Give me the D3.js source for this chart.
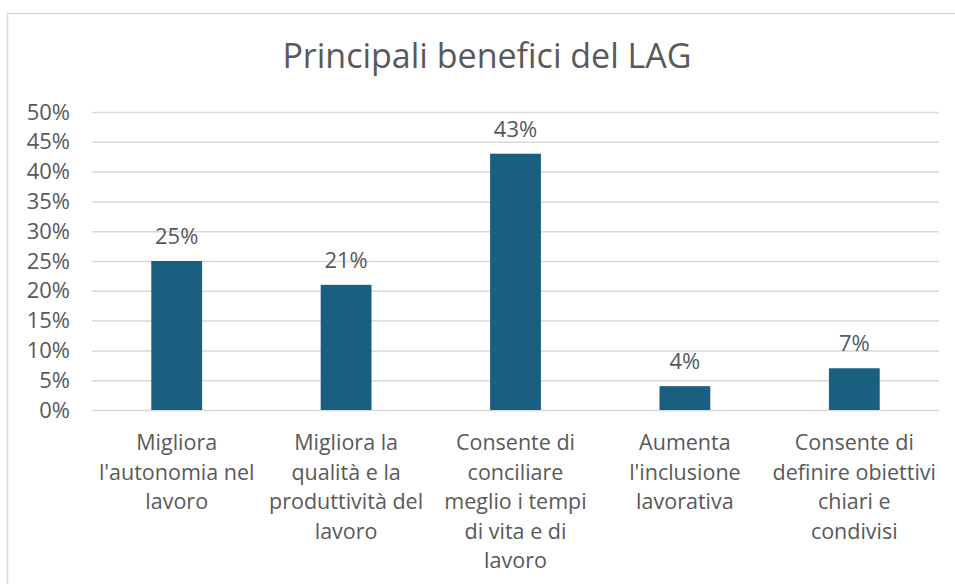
<!DOCTYPE html>
<html>
<head>
<meta charset="utf-8">
<script src="https://cdn.jsdelivr.net/npm/d3@7"></script>
<style>
  body { margin: 0; background: #fff; }
  svg text { font-family: "Open Sans", sans-serif; fill: #595959; }
</style>
</head>
<body>
<div id="chart"></div>
<script>
"use strict";

const title = "Principali benefici del LAG";
const categories = [
    ["Migliora", "l'autonomia nel", "lavoro"],
    ["Migliora la", "qualità e la", "produttività del", "lavoro"],
    ["Consente di", "conciliare", "meglio i tempi", "di vita e di", "lavoro"],
    ["Aumenta", "l'inclusione", "lavorativa"],
    ["Consente di", "definire obiettivi", "chiari e", "condivisi"]
];
const values = [0.25, 0.21, 0.43, 0.04, 0.07];
const yTicks = [0, 0.05, 0.10, 0.15, 0.20, 0.25, 0.30, 0.35, 0.40, 0.45, 0.50];

const width = 955, height = 584;
const barColor = "#1a5e80";
const gridColor = "#d9d9d9";

const svg = d3.select("#chart").append("svg")
    .attr("width", width)
    .attr("height", height);

// chart border (bottom/right fall outside the picture)
svg.append("rect")
    .attr("x", 7.5).attr("y", 13.5)
    .attr("width", 970).attr("height", 600)
    .attr("fill", "none")
    .attr("stroke", gridColor)
    .attr("stroke-width", 1.5);

svg.append("text")
    .attr("x", 487)
    .attr("y", 68)
    .attr("text-anchor", "middle")
    .style("font-size", "34px")
    .text(title);

const x = d3.scaleBand()
    .domain(d3.range(values.length))
    .range([92, 939])
    .paddingInner(0.7)
    .paddingOuter(0.35);

const y = d3.scaleLinear()
    .domain([0, 0.5])
    .range([410, 112]);

// gridlines + y labels
const yAxis = d3.axisLeft(y)
    .tickValues(yTicks)
    .tickFormat(d3.format(".0%"))
    .tickSize(-(939 - 92))
    .tickPadding(22);

const gy = svg.append("g")
    .attr("transform", "translate(92,0)")
    .call(yAxis);
gy.select(".domain").remove();
gy.selectAll(".tick line")
    .attr("stroke", gridColor)
    .attr("stroke-width", 1.5);
gy.selectAll(".tick text")
    .attr("fill", "#595959")
    .style("font-size", "22px")
    .style("font-family", "'Open Sans', sans-serif");

// bars
svg.append("g").selectAll("rect")
    .data(values)
    .join("rect")
    .attr("x", (d, i) => x(i))
    .attr("y", d => y(d))
    .attr("width", x.bandwidth())
    .attr("height", d => y(0) - y(d))
    .attr("fill", barColor);

// value labels
svg.append("g").selectAll("text")
    .data(values)
    .join("text")
    .attr("x", (d, i) => x(i) + x.bandwidth() / 2)
    .attr("y", d => y(d) - 17)
    .attr("text-anchor", "middle")
    .style("font-size", "22px")
    .text(d => d3.format(".0%")(d));

// category labels
const cat = svg.append("g").selectAll("text")
    .data(categories)
    .join("text")
    .attr("text-anchor", "middle")
    .style("font-size", "21.5px");
cat.selectAll("tspan")
    .data((d, i) => d.map(line => ({ line, i })))
    .join("tspan")
    .attr("x", d => x(d.i) + x.bandwidth() / 2)
    .attr("y", (d, j) => 450 + j * 29.5)
    .text(d => d.line);
</script>
</body>
</html>
